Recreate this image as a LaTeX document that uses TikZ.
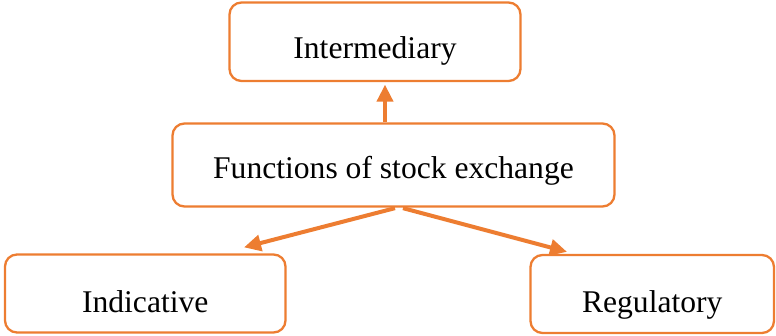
\documentclass[tikz,border=0pt]{standalone}
\usepackage{fontspec}
\setmainfont{Liberation Serif}
\usetikzlibrary{arrows.meta,calc}
\definecolor{accent}{HTML}{ED7D31}
\tikzset{
  box/.style={draw=accent, line width=2.3pt, rounded corners=12pt, fill=white,
              inner sep=0pt, text height=40pt, font=\fontsize{31.6}{36}\selectfont},
  arr/.style={draw=accent, line width=4pt,
              -{Triangle[length=17pt,width=16pt]}}
}
\begin{document}
\begin{tikzpicture}[x=1pt,y=-1pt]
  \useasboundingbox (0,0) rectangle (776,335);

  \node[box, minimum width=291pt, minimum height=78.5pt, text depth=7.5pt]
    (inter) at (375,41.75) {Intermediary};
  \node[box, minimum width=442pt, minimum height=83pt, text depth=14pt]
    (func) at (393.5,165) {Functions of stock exchange};
  \node[box, minimum width=280.5pt, minimum height=78pt, text depth=3pt]
    (ind) at (145.25,293.5) {Indicative};
  \node[box, minimum width=243.5pt, minimum height=78pt, text depth=4pt]
    (reg) at (652.25,294) {Regulatory};

  \draw[arr] ($(func.north)+(-8.5,0)$) -- ($(inter.south)+(10,2.5)$);
  \draw[arr] ($(func.south)+(1.5,0.5)$) -- ($(ind.north)+(98.75,-6)$);
  \draw[arr] ($(func.south)+(9.5,0.5)$) -- ($(reg.north)+(-85.25,-2)$);
\end{tikzpicture}
\end{document}
